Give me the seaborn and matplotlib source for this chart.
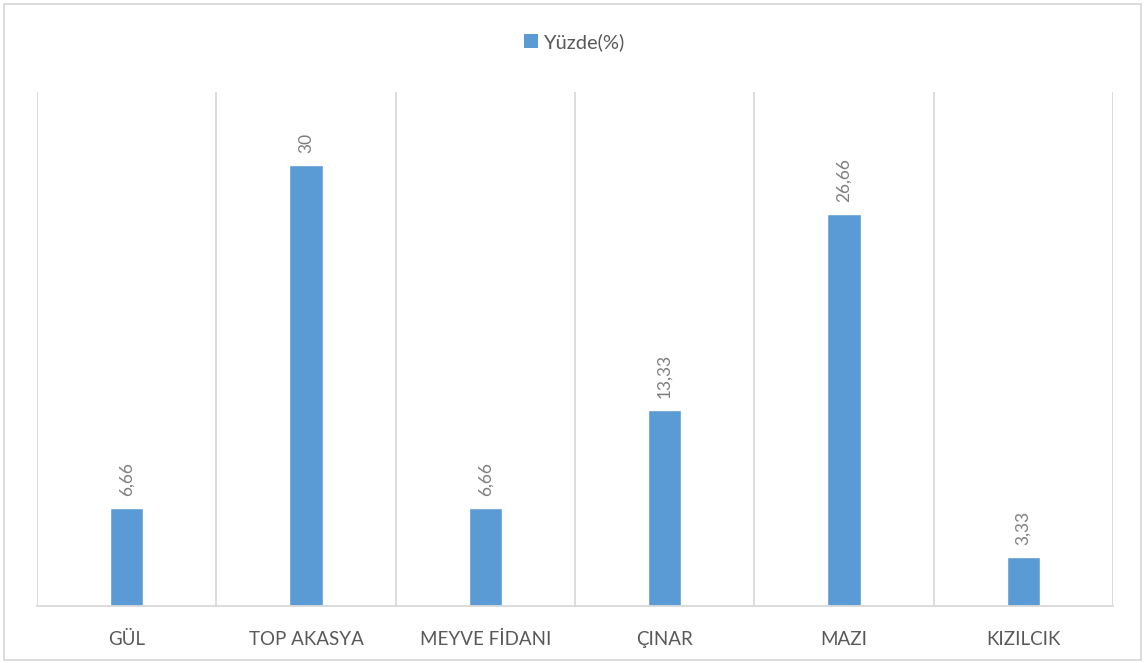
import matplotlib
matplotlib.use("Agg")
import matplotlib.pyplot as plt
import seaborn as sns
import pandas as pd
from matplotlib.patches import Rectangle, Patch

# ─────────────────────────────────────────────
# Data
# ─────────────────────────────────────────────
categories = ["GÜL", "TOP AKASYA", "MEYVE FİDANI", "ÇINAR", "MAZI", "KIZILCIK"]
values     = [6.66, 30, 6.66, 13.33, 26.66, 3.33]
value_text = ["6,66", "30", "6,66", "13,33", "26,66", "3,33"]
series     = "Yüzde(%)"

BAR_COLOR  = "#5B9BD5"
GRID_COLOR = "#D9D9D9"
TEXT_COLOR = "#595959"

sns.set_theme(style="white")
plt.rcParams["font.family"] = ["Lato", "DejaVu Sans"]

df = pd.DataFrame({"cat": categories, "val": values})

fig = plt.figure(figsize=(11.48, 6.63), dpi=100)
ax = fig.add_axes([37 / 1148, 57 / 663, (1113 - 37) / 1148, (606 - 92) / 663])

sns.barplot(data=df, x="cat", y="val", color=BAR_COLOR, width=0.185,
            saturation=1, ax=ax)

ax.bar_label(ax.containers[0], labels=value_text, rotation=90, padding=9,
             color="#7F7F7F", fontsize=12.5)

ax.set_xlim(-0.5, len(categories) - 0.5)
ax.set_ylim(0, 35)
ax.set_xlabel("")
ax.set_ylabel("")
ax.set_yticks([])

# vertical separators between categories
ax.set_xticks([i - 0.5 for i in range(len(categories) + 1)], minor=True)
ax.grid(which="minor", axis="x", color=GRID_COLOR, linewidth=1.3)
ax.grid(which="major", visible=False)
ax.tick_params(axis="x", which="both", length=0, pad=18,
               labelsize=13.5, labelcolor=TEXT_COLOR)
for lbl in ax.get_xticklabels():
    lbl.set_fontstretch("expanded")

for side in ["top", "left", "right"]:
    ax.spines[side].set_visible(False)
ax.spines["bottom"].set_color(GRID_COLOR)
ax.spines["bottom"].set_linewidth(1.3)

# legend at top centre
handle = Patch(facecolor=BAR_COLOR, edgecolor="none", label=series)
fig.legend(handles=[handle], loc="center", bbox_to_anchor=(0.5, 1 - 42 / 663),
           frameon=False, fontsize=14.5, handlelength=0.7, handleheight=0.75,
           handletextpad=0.25, labelcolor=TEXT_COLOR)

# outer chart border
fig.patches.append(Rectangle((4 / 1148, 3 / 663), 1137 / 1148, 656 / 663,
                             transform=fig.transFigure, fill=False,
                             edgecolor=GRID_COLOR, linewidth=1.3))

fig.savefig("out.png", dpi=100)
plt.close(fig)
